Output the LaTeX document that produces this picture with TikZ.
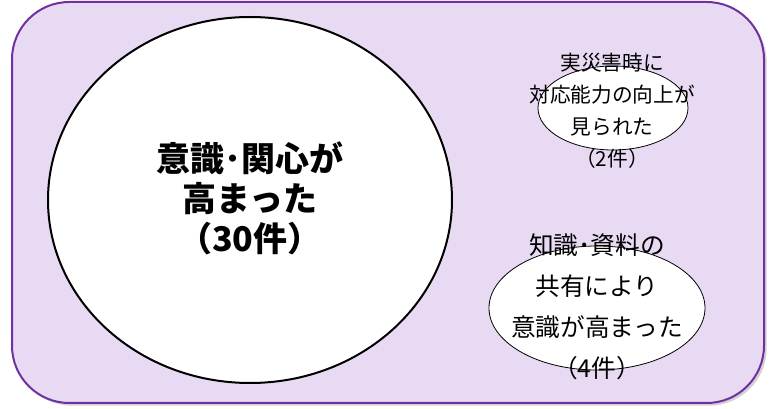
\documentclass[tikz,border=0pt]{standalone}
\usepackage{fontspec}
\newfontfamily\jp{Noto Sans CJK JP}
\usetikzlibrary{shapes.geometric,shadows,positioning}
\definecolor{lavender}{RGB}{232,218,243}
\definecolor{framepurple}{RGB}{112,48,160}

\begin{document}
\begin{tikzpicture}[x=0.75pt,y=-0.75pt,
    oval/.style={ellipse, draw, fill=white, inner sep=0pt},
    ovaltext/.style={align=center, inner sep=0pt}]

    \useasboundingbox (0,0) rectangle (769,409);

    % frame
    \draw[framepurple, line width=1.5pt, fill=lavender, rounded corners=43pt,
        drop shadow={shadow xshift=2pt, shadow yshift=-2pt, opacity=0.35}]
        (12,2) rectangle (764,403);

    % ellipses
    \node[oval, line width=1.5pt, minimum width=303pt, minimum height=274.5pt] (big) at (250,200) {};
    \node[oval, line width=0.6pt, minimum width=112.5pt, minimum height=63pt] (top) at (613,108) {};
    \node[oval, line width=0.6pt, minimum width=162pt, minimum height=93pt] (bottom) at (597,308) {};

    % texts
    \node[ovaltext, font={\jp\bfseries\fontsize{25.5pt}{30pt}\selectfont}] (bigtext) at (250,198)
        {意識･関心が\\高まった\\（30件）};
    \node[ovaltext, font={\jp\fontsize{15.5pt}{24pt}\selectfont}] (toptext) at (612,111)
        {実災害時に\\対応能力の向上が\\見られた\\（2件）};
    \node[ovaltext, font={\jp\fontsize{18.5pt}{30.75pt}\selectfont}] (bottomtext) at (597,307)
        {知識･資料の\\共有により\\意識が高まった\\（4件）};

\end{tikzpicture}
\end{document}
